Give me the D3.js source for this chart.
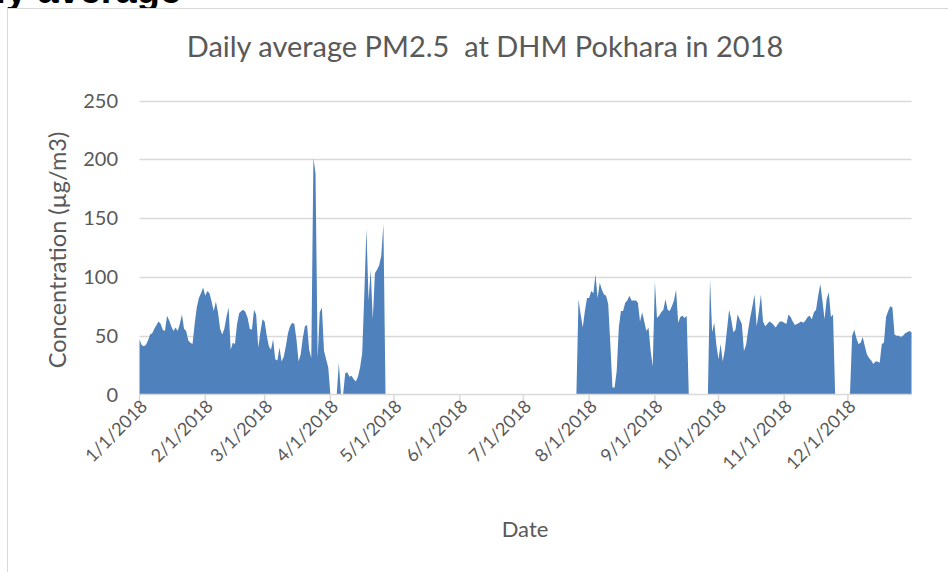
<!DOCTYPE html>
<html>
<head>
<meta charset="utf-8">
<script src="https://cdn.jsdelivr.net/npm/d3@7"></script>
<style>
  body { margin: 0; background: #fff; }
  svg { display: block; }
</style>
</head>
<body>
<div id="chart"></div>
<script>
// daily PM2.5 values, each segment starts on the date given
var seg1Start = "2018-01-01";
var seg1 = [47, 42, 41, 42, 46, 51, 52, 56, 59, 62,
            60, 55, 54, 67, 63, 58, 54, 57, 54, 60,
            68, 56, 54, 46, 44, 43, 60, 74, 82, 86,
            91, 84, 88, 86, 79, 71, 79, 70, 56, 51,
            56, 66, 74, 38, 44, 43, 60, 69, 71, 72,
            70, 65, 56, 55, 72, 68, 40, 53, 64, 62,
            50, 41, 38, 47, 30, 29, 40, 28, 32, 41,
            52, 58, 61, 60, 47, 28, 34, 48, 58, 59,
            38, 31, 201, 188, 31, 70, 74, 37, 30, 23];
var seg2Start = "2018-04-05";
var seg2 = [27];
var seg3Start = "2018-04-08";
var seg3 = [18, 19, 15, 16, 13, 11, 15, 23, 35, 85,
            141, 80, 106, 64, 103, 106, 110, 118, 145];
var seg4Start = "2018-07-27";
var seg4 = [81, 68, 57, 71, 82, 82, 88, 86, 102, 82,
            95, 89, 85, 84, 77, 43, 6, 6, 20, 57,
            71, 71, 78, 80, 84, 80, 80, 80, 78, 62,
            70, 62, 54, 57, 37, 24, 96, 65, 67, 70,
            72, 81, 72, 71, 75, 80, 89, 61, 66, 67,
            65, 67];
var seg5Start = "2018-09-27";
var seg5 = [98, 53, 61, 42, 30, 43, 28, 38, 55, 72,
            64, 53, 55, 68, 64, 60, 37, 42, 55, 66,
            75, 85, 58, 70, 85, 62, 58, 60, 62, 61,
            59, 57, 60, 62, 62, 61, 60, 68, 66, 62,
            59, 60, 61, 62, 61, 63, 66, 67, 64, 70,
            72, 84, 94, 80, 64, 81, 87, 66, 68];
var seg6Start = "2018-12-03";
var seg6 = [50, 55, 48, 43, 44, 49, 41, 34, 31, 29,
            26, 28, 28, 27, 43, 44, 66, 71, 75, 74,
            51, 50, 50, 49, 50, 52, 53, 54, 53];

var yTicks = [0, 50, 100, 150, 200, 250];

var segments = [[seg1Start, seg1], [seg2Start, seg2], [seg3Start, seg3],
                [seg4Start, seg4], [seg5Start, seg5], [seg6Start, seg6]];

var parse = d3.utcParse("%Y-%m-%d");
var fmt = d3.utcFormat("%-m/%-d/%Y");
var days = d3.utcDay.range(parse("2018-01-01"), parse("2019-01-01"));

// blank days are drawn as zero, like the spreadsheet did
var lookup = {};
segments.forEach(function(s) {
  var start = parse(s[0]);
  s[1].forEach(function(v, i) { lookup[+d3.utcDay.offset(start, i)] = v; });
});
var data = days.map(function(d) { return {date: d, num: lookup[+d] || 0}; });

var width = 948, height = 572;
var font = "Lato, 'Open Sans', sans-serif";
var grey = "#595959";
var blue = "#4f81bd";

var x = d3.scaleUtc()
  .domain([parse("2018-01-01"), parse("2018-12-31")])
  .range([139.5, 911.5]);
var y = d3.scaleLinear().domain([0, 250]).range([394.5, 100.5]);

var svg = d3.select("#chart").append("svg")
  .attr("width", width)
  .attr("height", height);

// heading text of the page above, cut off at the top like in the original
svg.append("text")
  .attr("x", -64)
  .attr("y", 3)
  .style("font-family", "'Liberation Sans', Arial, sans-serif")
  .style("font-weight", "bold")
  .style("font-size", "38px")
  .style("fill", "#000")
  .text("Daily average");

// chart frame
svg.append("rect")
  .attr("x", 7.5).attr("y", 8.5)
  .attr("width", 1000).attr("height", 700)
  .style("fill", "#fff")
  .style("stroke", "#d9d9d9");

// gridlines
svg.append("g").selectAll("line")
  .data(yTicks.slice(1))
  .enter().append("line")
  .attr("x1", x.range()[0]).attr("x2", x.range()[1])
  .attr("y1", function(d) { return Math.round(y(d)) + 0.5; })
  .attr("y2", function(d) { return Math.round(y(d)) + 0.5; })
  .style("stroke", "#d9d9d9")
  .style("stroke-width", 1.5);

// the area
var area = d3.area()
  .x(function(d) { return x(d.date); })
  .y0(y(0))
  .y1(function(d) { return y(d.num); });

svg.append("path")
  .datum(data)
  .attr("d", area)
  .style("fill", blue)
  .style("stroke", "none");

// x axis
var months = d3.utcMonth.range(parse("2018-01-01"), parse("2018-12-31"));
var xAxis = svg.append("g").attr("transform", "translate(0," + y(0) + ")");
xAxis.append("line")
  .attr("x1", x.range()[0]).attr("x2", x.range()[1])
  .style("stroke", "#d9d9d9").style("stroke-width", 1.5);
xAxis.selectAll(".tick")
  .data(months)
  .enter().append("line")
  .attr("class", "tick")
  .attr("x1", function(d) { return x(d); })
  .attr("x2", function(d) { return x(d); })
  .attr("y1", 0).attr("y2", 7)
  .style("stroke", "#d9d9d9").style("stroke-width", 1.5);
xAxis.selectAll(".lab")
  .data(months)
  .enter().append("text")
  .attr("class", "lab")
  .attr("transform", function(d) { return "translate(" + (x(d) + 9) + ",13) rotate(-45)"; })
  .style("text-anchor", "end")
  .style("font-family", font)
  .style("font-size", "18px")
  .style("fill", grey)
  .text(fmt);

// y axis labels
svg.append("g").selectAll("text")
  .data(yTicks)
  .enter().append("text")
  .attr("x", 118)
  .attr("y", function(d) { return y(d); })
  .attr("dy", "0.35em")
  .style("text-anchor", "end")
  .style("font-family", font)
  .style("font-size", "20px")
  .style("fill", grey)
  .text(function(d) { return d; });

// title
svg.append("text")
  .attr("x", 485)
  .attr("y", 57)
  .style("text-anchor", "middle")
  .style("font-family", font)
  .style("font-size", "29px")
  .style("fill", grey)
  .style("white-space", "pre")
  .text("Daily average PM2.5  at DHM Pokhara in 2018");

// axis titles
svg.append("text")
  .attr("transform", "translate(66,250) rotate(-90)")
  .style("text-anchor", "middle")
  .style("font-family", font)
  .style("font-size", "23.5px")
  .style("fill", grey)
  .text("Concentration (\u00b5g/m3)");

svg.append("text")
  .attr("x", 525)
  .attr("y", 537)
  .style("text-anchor", "middle")
  .style("font-family", font)
  .style("font-size", "22px")
  .style("fill", grey)
  .text("Date");
</script>
</body>
</html>
